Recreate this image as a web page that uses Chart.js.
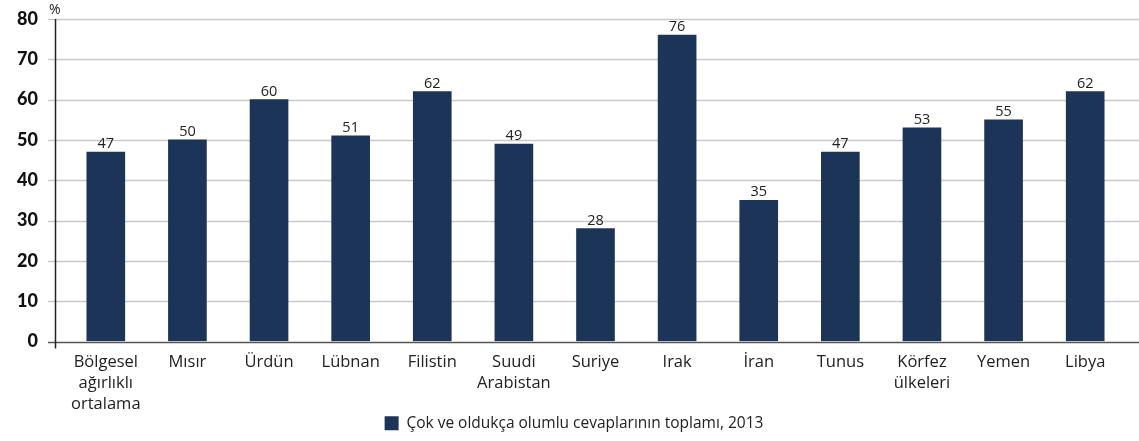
<!DOCTYPE html>
<html><head><meta charset="utf-8">
<script src="https://cdn.jsdelivr.net/npm/chart.js@4.4.0/dist/chart.umd.min.js"></script>
<style>html,body{margin:0;padding:0;background:#fff;}#wrap{width:1139px;height:441px;}</style>
</head><body><div id="wrap"><canvas id="c" width="1139" height="441"></canvas></div>
<script>
const categories = [["Bölgesel","ağırlıklı","ortalama"],"Mısır","Ürdün","Lübnan","Filistin",["Suudi","Arabistan"],"Suriye","Irak","İran","Tunus",["Körfez","ülkeleri"],"Yemen","Libya"];
const values = [47,50,60,51,62,49,28,76,35,47,53,55,62];
const seriesLabel = "Çok ve oldukça olumlu cevaplarının toplamı, 2013";
const yTicks = [0,10,20,30,40,50,60,70,80];
const unitLabel = "%";

const BAR = '#1d3459';
const FONT = '"Open Sans", Lato, sans-serif';
const TFONT = 'Lato, "Open Sans", sans-serif';

const decor = {
  id: 'decor',
  afterLayout(chart) {
    if (chart.legend) { chart.legend.left += 11; chart.legend.right += 11; }
  },
  beforeDatasetsDraw(chart) {
    const ctx = chart.ctx, y = chart.scales.y;
    ctx.save();
    yTicks.forEach(v => {
      const py = Math.round(y.getPixelForValue(v)) + 0.5;
      ctx.strokeStyle = v === 0 ? '#555' : '#c9c9c9';
      ctx.lineWidth = 1.5;
      ctx.beginPath(); ctx.moveTo(48, py); ctx.lineTo(1139, py); ctx.stroke();
    });
    ctx.strokeStyle = '#222'; ctx.lineWidth = 1.5;
    ctx.beginPath(); ctx.moveTo(55.5, y.getPixelForValue(80)); ctx.lineTo(55.5, y.getPixelForValue(0) + 7); ctx.stroke();
    ctx.fillStyle = '#222'; ctx.font = '14px ' + FONT; ctx.textBaseline = 'middle'; ctx.textAlign = 'left';
    ctx.fillText(unitLabel, 49, 10);
    ctx.restore();
  },
  afterDatasetsDraw(chart) {
    const ctx = chart.ctx;
    ctx.save();
    ctx.fillStyle = '#222'; ctx.font = '14.5px ' + FONT; ctx.textAlign = 'center'; ctx.textBaseline = 'alphabetic';
    chart.getDatasetMeta(0).data.forEach((bar, i) => {
      ctx.fillText(String(values[i]), bar.x, bar.y - 4);
    });
    ctx.restore();
  }
};

new Chart(document.getElementById('c'), {
  type: 'bar',
  data: { labels: categories, datasets: [{ label: seriesLabel, data: values, backgroundColor: BAR, borderWidth: 0, barThickness: 38 }] },
  options: {
    responsive: false, animation: false,
    layout: { padding: { top: 19, right: 13, left: 0, bottom: 0 } },
    plugins: {
      tooltip: { enabled: false },
      legend: { position: 'bottom', labels: { color: '#222', font: { family: FONT, size: 15.5 }, boxWidth: 14, boxHeight: 14, padding: 2 } }
    },
    scales: {
      x: {
        grid: { display: false, drawTicks: false }, border: { display: false },
        ticks: { color: '#222', font: { family: FONT, size: 16.5, lineHeight: '21px' }, padding: 10, maxRotation: 0, autoSkip: false },
        afterFit(s) { s.height = 72; }
      },
      y: {
        min: 0, max: 80,
        grid: { display: true, drawOnChartArea: false, drawTicks: true, tickLength: 24, color: 'rgba(0,0,0,0)' }, border: { display: false },
        ticks: { stepSize: 10, color: '#111', font: { family: TFONT, size: 18, weight: 900 }, padding: 3 },
        afterFit(s) { s.width = 65; }
      }
    }
  },
  plugins: [decor]
});
</script></body></html>
